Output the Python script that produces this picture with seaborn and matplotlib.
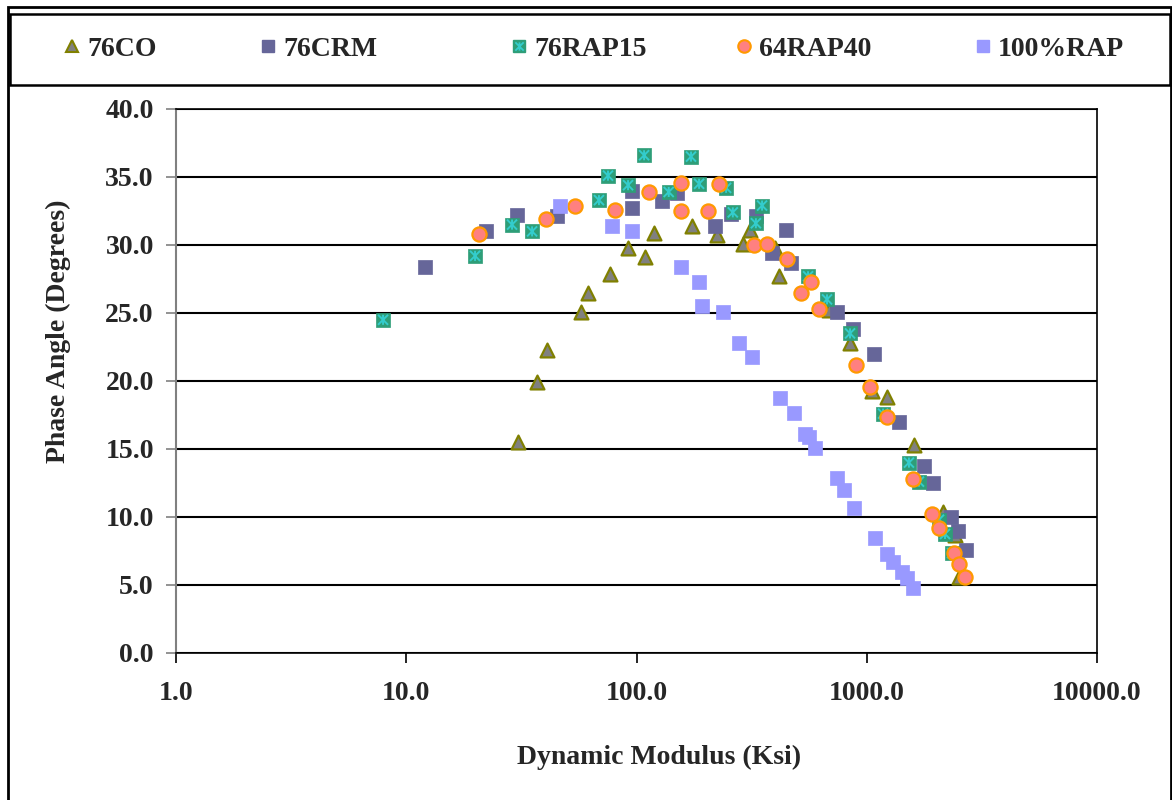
import matplotlib
matplotlib.use("Agg")
import matplotlib.pyplot as plt
import seaborn as sns
import numpy as np
import pandas as pd
from matplotlib.path import Path
from matplotlib.lines import Line2D
from matplotlib.patches import Rectangle
from matplotlib.ticker import FixedLocator, FixedFormatter, NullLocator

# ---------------- data ----------------
co_x = [30.6, 37.0, 40.9, 57.4, 61.5, 76.7, 91.9, 108.9, 119, 174, 224, 290, 311,
        400, 416, 686, 846, 1054, 1225, 1604, 2143, 2417, 2518]
co_y = [15.5, 19.9, 22.3, 25.1, 26.5, 27.9, 29.8, 29.1, 30.9, 31.4, 30.7, 30.1, 31.1,
        29.8, 27.7, 25.2, 22.8, 19.3, 18.8, 15.3, 10.4, 8.7, 5.6]

crm_x = [12.06, 22.2, 30.3, 45.2, 95.6, 95.6, 129, 150, 219, 257, 330, 388, 446, 469,
         743, 871, 1076, 1380, 1774, 1940, 2322, 2490, 2698]
crm_y = [28.4, 31.0, 32.2, 32.1, 32.7, 34.0, 33.2, 33.8, 31.4, 32.3, 32.1, 29.4, 31.1, 28.7,
         25.1, 23.8, 22.0, 17.0, 13.75, 12.5, 10.0, 9.0, 7.6]

rap15_x = [7.93, 19.9, 28.8, 35.2, 68.7, 75.2, 91.9, 107.9, 138, 172.5, 187, 245, 262,
           330, 351, 556, 672, 846, 1177, 1525, 1686, 2060, 2187, 2346]
rap15_y = [24.5, 29.2, 31.5, 31.0, 33.3, 35.1, 34.4, 36.6, 33.9, 36.5, 34.5, 34.2, 32.4,
           31.6, 32.9, 27.7, 26.0, 23.5, 17.6, 14.0, 12.6, 9.8, 8.75, 7.35]

rap40_x = [20.7, 40.5, 54.1, 80.7, 113, 156, 156, 204.5, 228, 324, 369, 451, 518, 573,
           621, 898, 1033, 1225, 1588, 1920, 2060, 2393, 2518, 2673]
rap40_y = [30.8, 31.9, 32.9, 32.6, 33.9, 34.55, 32.5, 32.5, 34.5, 30.0, 30.1, 29.0, 26.5, 27.3,
           25.3, 21.2, 19.55, 17.35, 12.8, 10.2, 9.2, 7.35, 6.55, 5.6]

rap100_x = [46.5, 78.3, 95.6, 156, 187, 192, 238, 279, 318, 420, 483, 539, 562, 596,
            743, 797, 880, 1086, 1225, 1300, 1422, 1496, 1588]
rap100_y = [32.9, 31.4, 31.0, 28.4, 27.3, 25.5, 25.1, 22.8, 21.8, 18.75, 17.65, 16.1, 15.9, 15.1,
            12.9, 12.0, 10.65, 8.45, 7.3, 6.7, 5.95, 5.5, 4.8]

series_names = ["76CO", "76CRM", "76RAP15", "64RAP40", "100%RAP"]
x_ticks = [1, 10, 100, 1000, 10000]
x_tick_labels = ["1.0", "10.0", "100.0", "1000.0", "10000.0"]
y_ticks = [0, 5, 10, 15, 20, 25, 30, 35, 40]
y_tick_labels = ["0.0", "5.0", "10.0", "15.0", "20.0", "25.0", "30.0", "35.0", "40.0"]

# ---------------- style ----------------
sns.set_theme(style="white")
plt.rcParams["font.family"] = ["Liberation Serif", "DejaVu Serif"]
plt.rcParams["font.weight"] = "bold"
FS = 20

fig = plt.figure(figsize=(11.72, 8.0), dpi=100)
W, H = 1172, 800
ax = fig.add_axes([176 / W, 1 - 653 / H, (1097 - 176) / W, (653 - 109) / H])

# star (x + vertical) marker
star_path = Path([(-1, -1), (1, 1), (-1, 1), (1, -1), (0, -1), (0, 1)],
                 [Path.MOVETO, Path.LINETO, Path.MOVETO, Path.LINETO, Path.MOVETO, Path.LINETO])

S = 95
df_co = pd.DataFrame({"x": co_x, "y": co_y})
df_crm = pd.DataFrame({"x": crm_x, "y": crm_y})
df_15 = pd.DataFrame({"x": rap15_x, "y": rap15_y})
df_40 = pd.DataFrame({"x": rap40_x, "y": rap40_y})
df_100 = pd.DataFrame({"x": rap100_x, "y": rap100_y})

sns.scatterplot(data=df_co, x="x", y="y", ax=ax, marker="^", s=S * 1.05,
                color="#808080", edgecolor="#808000", linewidth=1.6, zorder=3, legend=False)
sns.scatterplot(data=df_crm, x="x", y="y", ax=ax, marker="s", s=S,
                color="#666699", edgecolor="#666699", linewidth=0.5, zorder=4, legend=False)
sns.scatterplot(data=df_15, x="x", y="y", ax=ax, marker="s", s=S,
                color="#2E9E78", edgecolor="#2E9E78", linewidth=0.5, zorder=5, legend=False)
ax.scatter(df_15["x"], df_15["y"], marker=star_path, s=S * 0.55, facecolors="none",
           edgecolors="#33CCCC", linewidths=1.4, zorder=6)
sns.scatterplot(data=df_40, x="x", y="y", ax=ax, marker="o", s=S * 1.1,
                color="#FF8080", edgecolor="#FF9900", linewidth=1.6, zorder=7, legend=False)
sns.scatterplot(data=df_100, x="x", y="y", ax=ax, marker="s", s=S,
                color="#9999FF", edgecolor="#9999FF", linewidth=0.5, zorder=8, legend=False)

ax.set_xscale("log")
ax.set_xlim(1, 10000)
ax.set_ylim(0, 40)
ax.xaxis.set_major_locator(FixedLocator(x_ticks))
ax.xaxis.set_major_formatter(FixedFormatter(x_tick_labels))
ax.xaxis.set_minor_locator(NullLocator())
ax.yaxis.set_major_locator(FixedLocator(y_ticks))
ax.yaxis.set_major_formatter(FixedFormatter(y_tick_labels))

ax.grid(False)
for yv in y_ticks:
    ax.axhline(yv, color="black", lw=1.5, zorder=1)

for side in ["top", "right", "bottom"]:
    ax.spines[side].set_visible(True)
    ax.spines[side].set_color("black")
    ax.spines[side].set_linewidth(1.2)
ax.spines["left"].set_color("#808080")
ax.spines["left"].set_linewidth(1.5)

ax.tick_params(axis="x", which="major", direction="out", length=7, width=1.2,
               color="black", labelsize=FS, pad=13, bottom=True)
ax.tick_params(axis="y", which="major", direction="out", length=7, width=1.2,
               color="#808080", labelsize=FS, pad=9, left=True)
for lab in ax.get_xticklabels() + ax.get_yticklabels():
    lab.set_fontweight("bold")

ax.set_xlabel("Dynamic Modulus (Ksi)", fontsize=FS, fontweight="bold")
ax.set_ylabel("Phase Angle (Degrees)", fontsize=FS, fontweight="bold")
ax.xaxis.set_label_coords((659.5 - 176) / 921, (653 - 745) / 544)
ax.yaxis.set_label_coords((71 - 176) / 921, (653 - 331) / 544)

# outer frame and legend box
fig.patches.append(Rectangle((8 / W, -0.01), (1171 - 8) / W, 1 - 7 / H + 0.01,
                             transform=fig.transFigure, fill=False, edgecolor="black", lw=2))
fig.patches.append(Rectangle((10 / W, 1 - 85 / H), (1170 - 10) / W, (85 - 14) / H,
                             transform=fig.transFigure, fill=False, edgecolor="black", lw=1.8))

handles = [
    Line2D([], [], ls="none", marker="^", ms=9, mfc="#808080", mec="#808000", mew=1.5),
    Line2D([], [], ls="none", marker="s", ms=9, mfc="#666699", mec="#666699"),
    Line2D([], [], ls="none", marker="s", ms=9, mfc="#2E9E78", mec="#2E9E78"),
    Line2D([], [], ls="none", marker="o", ms=9, mfc="#FF8080", mec="#FF9900", mew=1.5),
    Line2D([], [], ls="none", marker="s", ms=9, mfc="#9999FF", mec="#9999FF"),
]
star_h = Line2D([], [], ls="none", marker=star_path, ms=6, mfc="none", mec="#33CCCC", mew=1.3)
marker_x = [72, 268, 519, 744, 983]
for i, (h, name) in enumerate(zip(handles, series_names)):
    hh = (h, star_h) if name == "76RAP15" else h
    fig.legend([hh], [name], loc="center left",
               bbox_to_anchor=((marker_x[i] - 7) / W, 1 - 49 / H),
               frameon=False, borderpad=0, borderaxespad=0,
               handlelength=0.5, handletextpad=0.3,
               prop={"family": "Liberation Serif", "weight": "bold", "size": FS})

fig.savefig("out.png", dpi=100)
